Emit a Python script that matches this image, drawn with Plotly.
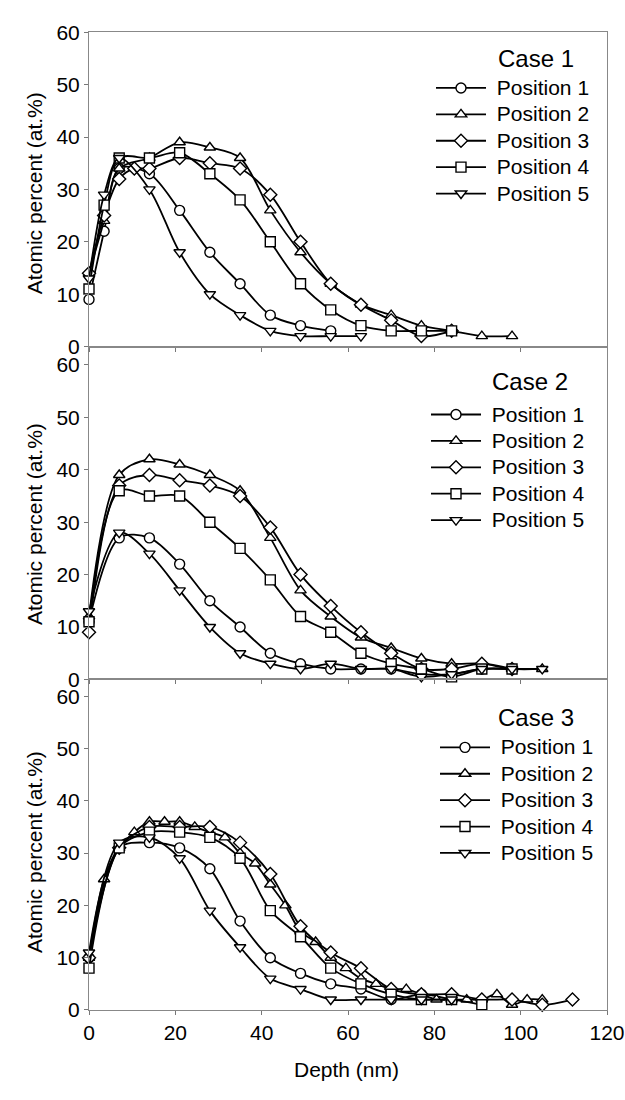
import plotly.graph_objects as go

# ---------------- data ----------------
series_names = ["Position 1", "Position 2", "Position 3", "Position 4", "Position 5"]
symbols = ["circle", "triangle-up", "diamond", "square", "triangle-down"]
case_labels = ["Case 1", "Case 2", "Case 3"]
x_ticks = [0, 20, 40, 60, 80, 100, 120]
y_ticks = [0, 10, 20, 30, 40, 50, 60]

# Case 1
c1_p1_x = [0, 3.5, 7, 14, 21, 28, 35, 42, 49, 56]
c1_p1_y = [9, 22, 34, 33, 26, 18, 12, 6, 4, 3]
c1_p2_x = [0, 3.5, 7, 14, 21, 28, 35, 42, 49, 56, 63, 70, 77, 84, 91, 98]
c1_p2_y = [14, 24, 34, 36, 39, 38, 36, 26, 18, 12, 8, 6, 4, 3, 2, 2]
c1_p3_x = [0, 3.5, 7, 10.5, 14, 21, 28, 35, 42, 49, 56, 63, 70, 77, 84]
c1_p3_y = [14, 25, 32, 34, 34, 36, 35, 34, 29, 20, 12, 8, 5, 2, 3]
c1_p4_x = [0, 3.5, 7, 14, 21, 28, 35, 42, 49, 56, 63, 70, 77, 84]
c1_p4_y = [11, 27, 36, 36, 37, 33, 28, 20, 12, 7, 4, 3, 3, 3]
c1_p5_x = [0, 3.5, 7, 14, 21, 28, 35, 42, 49, 56, 63]
c1_p5_y = [13, 29, 36, 30, 18, 10, 6, 3, 2, 2, 2]

# Case 2
c2_p1_x = [0, 7, 14, 21, 28, 35, 42, 49, 56, 63, 70, 77, 84, 91, 98]
c2_p1_y = [11, 27, 27, 22, 15, 10, 5, 3, 2, 2, 2, 1, 1, 2, 2]
c2_p2_x = [0, 7, 14, 21, 28, 35, 42, 49, 56, 63, 70, 77, 84, 91, 98, 105]
c2_p2_y = [12, 39, 42, 41, 39, 36, 27, 17, 12, 8, 6, 4, 3, 3, 2, 2]
c2_p3_x = [0, 7, 14, 21, 28, 35, 42, 49, 56, 63, 70, 77, 84, 91, 98]
c2_p3_y = [9, 37, 39, 38, 37, 35, 29, 20, 14, 9, 5, 2, 2, 3, 2]
c2_p4_x = [0, 7, 14, 21, 28, 35, 42, 49, 56, 63, 70, 77, 84, 91, 98]
c2_p4_y = [11, 36, 35, 35, 30, 25, 19, 12, 9, 5, 3, 2, 0.5, 2, 2]
c2_p5_x = [0, 7, 14, 21, 28, 35, 42, 49, 56, 63, 70, 77, 84, 91, 98, 105]
c2_p5_y = [13, 28, 24, 17, 10, 5, 3, 2, 3, 2, 2, 0.5, 1, 2, 2, 2]

# Case 3
c3_p1_x = [0, 7, 14, 21, 28, 35, 42, 49, 56, 63, 70, 77, 84]
c3_p1_y = [10, 31, 32, 31, 27, 17, 10, 7, 5, 4, 2, 3, 2]
c3_p2_x = [0, 3.5, 7, 10.5, 14, 17.5, 21, 24.5, 28, 31.5, 35, 38.5, 42, 45.5, 49, 52.5,
           56, 59.5, 63, 66.5, 70, 73.5, 77, 80.5, 84, 87.5, 91, 94.5, 98, 101.5, 105]
c3_p2_y = [10, 25, 31, 34, 36, 36, 36, 35, 34, 33, 30, 28, 24, 20, 15, 13,
           10, 8, 6, 5, 4, 4, 3, 2, 2, 2, 2, 3, 1, 2, 2]
c3_p3_x = [0, 7, 14, 21, 28, 35, 42, 49, 56, 63, 70, 77, 84, 91, 98, 105, 112]
c3_p3_y = [10, 31, 35, 35, 35, 32, 26, 16, 11, 8, 4, 3, 3, 2, 2, 1, 2]
c3_p4_x = [0, 7, 14, 21, 28, 35, 42, 49, 56, 63, 70, 77, 84, 91]
c3_p4_y = [8, 31, 34, 34, 33, 29, 19, 14, 8, 5, 3, 2, 2, 1]
c3_p5_x = [0, 7, 14, 21, 28, 35, 42, 49, 56, 63, 70, 77, 84]
c3_p5_y = [11, 32, 33, 29, 19, 12, 6, 4, 2, 2, 2, 2, 2]

cases = [
    [(c1_p1_x, c1_p1_y), (c1_p2_x, c1_p2_y), (c1_p3_x, c1_p3_y), (c1_p4_x, c1_p4_y), (c1_p5_x, c1_p5_y)],
    [(c2_p1_x, c2_p1_y), (c2_p2_x, c2_p2_y), (c2_p3_x, c2_p3_y), (c2_p4_x, c2_p4_y), (c2_p5_x, c2_p5_y)],
    [(c3_p1_x, c3_p1_y), (c3_p2_x, c3_p2_y), (c3_p3_x, c3_p3_y), (c3_p4_x, c3_p4_y), (c3_p5_x, c3_p5_y)],
]

# ---------------- layout geometry (pixels) ----------------
W, H = 625, 1100
L, R = 89, 18
PW = W - L - R
FONT = "Liberation Sans, Arial, Helvetica, sans-serif"

# panel [top_px, bottom_px, ymax]
panels = [(20.7, 341.7, 60), (341.7, 681.7, 63.5), (681.7, 1019.3, 63.2)]
legend_mid = [131.5, 465, 805]
legend_left = [431, 426, 435]
case_y = [47, 377, 721]
case_x = [496, 490, 496]
ytitle_y = [185, 523, 858]


def px_x(p):
    return (p - L) / PW


def px_y(p):
    return 1 - p / H


fig = go.Figure()
for ci, data in enumerate(cases):
    ax = "" if ci == 0 else str(ci + 1)
    for si, (xs, ys) in enumerate(data):
        fig.add_trace(go.Scatter(
            x=xs, y=ys, mode="lines+markers",
            name='<span style="font-size:21px">\u00a0%s</span>' % series_names[si],
            line=dict(color="black", width=1.8, shape="spline", smoothing=0.9),
            marker=dict(symbol=symbols[si], size=10, color="white",
                        line=dict(color="black", width=1.4)),
            cliponaxis=False,
            xaxis="x" + ax, yaxis="y" + ax,
            legend="legend" + ax,
        ))

layout = dict(
    width=W, height=H,
    margin=dict(l=L, r=R, t=0, b=0),
    paper_bgcolor="white", plot_bgcolor="white",
    font=dict(family=FONT, size=21, color="black"),
    showlegend=True,
)

annotations = []
for ci, (top, bot, ymax) in enumerate(panels):
    ax = "" if ci == 0 else str(ci + 1)
    layout["xaxis" + ax] = dict(
        domain=[0, 1], range=[0, 120], anchor="y" + ax,
        tickvals=x_ticks, showticklabels=(ci == 2),
        ticks="outside", ticklen=4, tickcolor="#777", tickwidth=1,
        showline=True, linecolor="#888", linewidth=1, mirror=True,
        showgrid=False, zeroline=False,
        tickfont=dict(size=21, family=FONT, color="black"),
    )
    layout["yaxis" + ax] = dict(
        domain=[px_y(bot), px_y(top)], range=[0, ymax], anchor="x" + ax,
        tickvals=y_ticks, ticks="outside", ticklen=4, tickcolor="#777", tickwidth=1,
        showline=True, linecolor="#888", linewidth=1, mirror=True,
        showgrid=False, zeroline=False,
        tickfont=dict(size=21, family=FONT, color="black"),
    )
    layout["legend" + ax] = dict(
        x=px_x(legend_left[ci]), xanchor="left",
        y=px_y(legend_mid[ci]), yanchor="middle",
        xref="paper", yref="paper",
        bgcolor="rgba(0,0,0,0)", borderwidth=0,
        font=dict(size=18, family=FONT, color="black"),
        itemwidth=50, tracegroupgap=0,
    )
    annotations.append(dict(
        text=case_labels[ci], x=px_x(case_x[ci]), y=px_y(case_y[ci]),
        xref="paper", yref="paper", xanchor="left", yanchor="middle",
        showarrow=False, font=dict(size=24, family=FONT, color="black"),
    ))
    annotations.append(dict(
        text="Atomic percent (at.%)", x=px_x(34), y=px_y(ytitle_y[ci]),
        xref="paper", yref="paper", xanchor="center", yanchor="middle",
        textangle=-90, showarrow=False,
        font=dict(size=21, family=FONT, color="black"),
    ))

annotations.append(dict(
    text="Depth (nm)", x=px_x(346), y=px_y(1080),
    xref="paper", yref="paper", xanchor="center", yanchor="middle",
    showarrow=False, font=dict(size=21, family=FONT, color="black"),
))
layout["annotations"] = annotations

fig.update_layout(**layout)
fig.write_html("out.html")
